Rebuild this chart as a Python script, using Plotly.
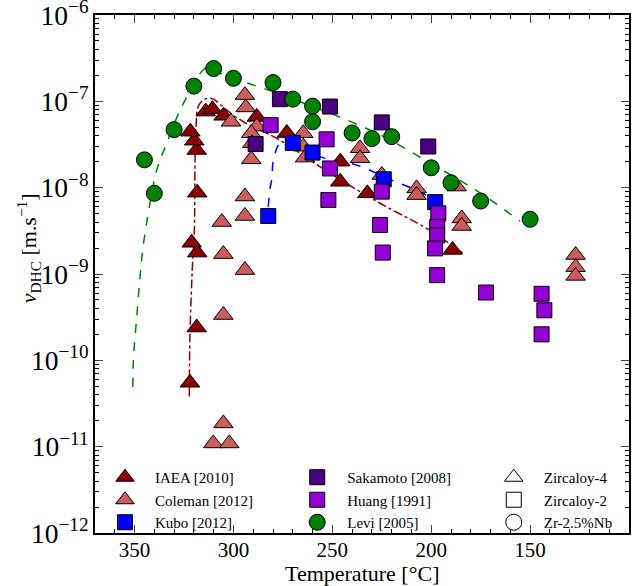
import plotly.graph_objects as go

# ---------------- data ----------------
T_iaea = [322, 318.6, 318.3, 321.1, 318.3, 318.6, 319.8, 321.8, 314, 310.6, 305, 288.2, 273, 246, 246, 232.3, 189.2]
v_iaea = [5.5e-11, 2.4e-10, 1.77e-9, 2.3e-9, 8.75e-9, 2.73e-8, 3.5e-8, 4.45e-8, 7.6e-8, 8.1e-8, 6.8e-8, 6.6e-8,
          4.3e-8, 2.0e-8, 1.17e-8, 8.6e-9, 1.9e-9]

T_coleman = [294.2, 293.8, 301.2, 288.2, 291, 290.5, 291, 264.7, 264.7, 263.8, 236, 236, 225, 207.4, 207.4,
             187.1, 184.6, 184.6, 127, 127, 127, 294.2, 294.2, 305.9, 305.1, 294.2, 305.1, 305.1, 310.2, 302.1]
v_coleman = [1.18e-7, 8.5e-8, 5.8e-8, 5.1e-8, 4.27e-8, 3.27e-8, 2.13e-8, 4.27e-8, 2.98e-8, 2.23e-8, 2.86e-8,
             2.19e-8, 1.4e-8, 9.8e-9, 8.2e-9, 1.03e-8, 4.4e-9, 3.6e-9, 1.66e-9, 1.2e-9, 9.5e-10, 7.9e-9, 4.7e-9,
             4.0e-9, 1.7e-9, 1.11e-9, 3.35e-10, 1.86e-11, 1.09e-11, 1.09e-11]

T_kubo = [282.4, 270, 260, 224, 198]
v_kubo = [4.7e-9, 3.3e-8, 2.55e-8, 1.25e-8, 6.8e-9]

T_sakamoto = [276.5, 288.8, 251.2, 225, 201.5]
v_sakamoto = [1.06e-7, 3.2e-8, 8.7e-8, 5.7e-8, 3.0e-8]

T_huang = [281.2, 252.9, 251.2, 252.0, 225.0, 225.9, 224.5, 196.4, 197, 197, 198.1, 197.0, 172.3, 144.2, 142.8, 144.2]
v_huang = [5.3e-8, 3.63e-8, 1.67e-8, 7.2e-9, 9.0e-9, 3.7e-9, 1.77e-9, 5.05e-9, 3.5e-9, 2.8e-9, 1.98e-9, 9.7e-10,
           6.1e-10, 5.9e-10, 3.8e-10, 2.0e-10]

T_levi = [345, 340, 330, 320, 310, 300, 280, 270, 260, 260, 240, 230, 220, 200, 190, 175, 150]
v_levi = [2.1e-8, 8.6e-9, 4.7e-8, 1.5e-7, 2.4e-7, 1.85e-7, 1.65e-7, 1.06e-7, 8.8e-8, 5.8e-8, 4.3e-8, 3.7e-8,
          3.9e-8, 1.7e-8, 1.14e-8, 7.0e-9, 4.3e-9]

# fitted curves
T_levi_fit = [350.9, 350.6, 348.9, 347.2, 345.9, 342.2, 338.8, 333.7, 327.0, 322.0, 316.9, 312.9, 308.5,
              295.0, 279.8, 266.4, 251.2, 225.9, 200.6, 175.3, 155.1]
v_levi_fit = [4.9e-11, 1.0e-10, 3.2e-10, 9.3e-10, 1.9e-9, 6.6e-9, 1.6e-8, 3.3e-8, 7.9e-8, 1.3e-7, 2.1e-7,
              2.5e-7, 2.2e-7, 1.69e-7, 1.29e-7, 9.9e-8, 7.3e-8, 4.1e-8, 1.93e-8, 8.7e-9, 4.1e-9]

T_iaea_fit = [322.3, 322.0, 321.1, 320.6, 319.8, 319.4, 318.9, 317.8, 315.2, 313.5, 310.2, 303.4, 295.0,
              286.6, 276.5, 251.2, 225.9, 200.6, 182.9]
v_iaea_fit = [3.8e-11, 1.88e-10, 7.8e-10, 1.45e-9, 2.96e-9, 2.09e-8, 5.1e-8, 8.7e-8, 1.04e-7, 1.08e-7,
              1.06e-7, 7.9e-8, 5.8e-8, 4.66e-8, 3.56e-8, 1.47e-8, 6.6e-9, 3.2e-9, 1.66e-9]

T_kubo_fit = [282.4, 281.5, 280.7, 279.8, 277.3, 274.8, 271.4, 256.2, 237.7, 220.3, 205.7, 200.6]
v_kubo_fit = [6.0e-9, 9.8e-9, 1.23e-8, 2.09e-8, 3.12e-8, 3.56e-8, 3.56e-8, 2.29e-8, 1.83e-8, 1.23e-8,
              8.97e-9, 7.6e-9]

FONT = "Liberation Serif"

fig = go.Figure()

# fit lines (behind markers)
fig.add_trace(go.Scatter(x=T_levi_fit, y=v_levi_fit, mode="lines", line=dict(color="green", width=1.5, dash="dash"),
                         line_shape="spline", showlegend=False, hoverinfo="skip"))
fig.add_trace(go.Scatter(x=T_iaea_fit, y=v_iaea_fit, mode="lines", line=dict(color="darkred", width=1.5, dash="dashdot"),
                         line_shape="spline", showlegend=False, hoverinfo="skip"))
fig.add_trace(go.Scatter(x=T_kubo_fit, y=v_kubo_fit, mode="lines", line=dict(color="blue", width=1.5, dash="dash"),
                         line_shape="spline", showlegend=False, hoverinfo="skip"))

mk_line = dict(color="black", width=1)

def add(x, y, name, symbol, color, size, legend):
    fig.add_trace(go.Scatter(x=x, y=y, mode="markers", name=name, legend=legend, legendgroup=name,
                             marker=dict(symbol=symbol, color=color, size=size, line=mk_line)))

add(T_iaea, v_iaea, "IAEA [2010]", "triangle-up", "#8B0000", 17, "legend")
add(T_coleman, v_coleman, "Coleman [2012]", "triangle-up", "#CD5C5C", 17, "legend")
add(T_kubo, v_kubo, "Kubo [2012]", "square", "#0000FF", 15, "legend")
add(T_sakamoto, v_sakamoto, "Sakamoto [2008]", "square", "#4B0082", 15, "legend2")
add(T_huang, v_huang, "Huang [1991]", "square", "#9400D3", 15, "legend2")
add(T_levi, v_levi, "Levi [2005]", "circle", "#008000", 16, "legend2")

# material legend (shape only)
add([None], [None], "Zircaloy-4", "triangle-up", "white", 17, "legend3")
add([None], [None], "Zircaloy-2", "square", "white", 15, "legend3")
add([None], [None], "Zr-2.5%Nb", "circle", "white", 16, "legend3")

leg = dict(xanchor="left", yanchor="top", y=0.139, bgcolor="rgba(0,0,0,0)", borderwidth=0,
           font=dict(family=FONT, size=15, color="black"), itemwidth=50, tracegroupgap=0)

fig.update_layout(
    width=644, height=586,
    margin=dict(l=95, r=15, t=15, b=53, autoexpand=False),
    paper_bgcolor="white", plot_bgcolor="white",
    font=dict(family=FONT, size=22, color="black"),
    legend=dict(leg, x=0.0),
    legend2=dict(leg, x=0.36),
    legend3=dict(leg, x=0.728),
    xaxis=dict(range=[370, 100], dtick=50, tick0=100, ticks="inside", ticklen=8, tickwidth=1.2,
               showline=True, linecolor="black", linewidth=2, mirror="allticks", showgrid=False, zeroline=False,
               automargin=False, ticklabelstandoff=-3,
               minor=dict(ticks="inside", ticklen=4, dtick=10, tickcolor="black", showgrid=False),
               tickfont=dict(size=21)),
    yaxis=dict(type="log", range=[-12, -6], dtick=1, exponentformat="power", ticks="inside", ticklen=8,
               tickwidth=1.2, showline=True, linecolor="black", linewidth=2, mirror="allticks", showgrid=False,
               ticklabeloverflow="allow", automargin=False,
               minor=dict(ticks="inside", ticklen=4, dtick="D1", tickcolor="black", showgrid=False),
               tickfont=dict(size=22)),
    annotations=[
        dict(text="<i>v</i><sub>DHC</sub> [m.s<sup>−1</sup>]", textangle=-90, xref="paper", yref="paper",
             x=-0.125, y=0.55, xanchor="center", yanchor="middle", showarrow=False,
             font=dict(family=FONT, size=22, color="black")),
        dict(text="Temperature [°C]", xref="paper", yref="paper", x=0.5, y=-0.079,
             xanchor="center", yanchor="middle", showarrow=False,
             font=dict(family=FONT, size=22, color="black")),
    ],
)

fig.write_html("out.html", config={"displayModeBar": False},
               post_script="document.body.style.margin='0';document.body.style.padding='0';")
